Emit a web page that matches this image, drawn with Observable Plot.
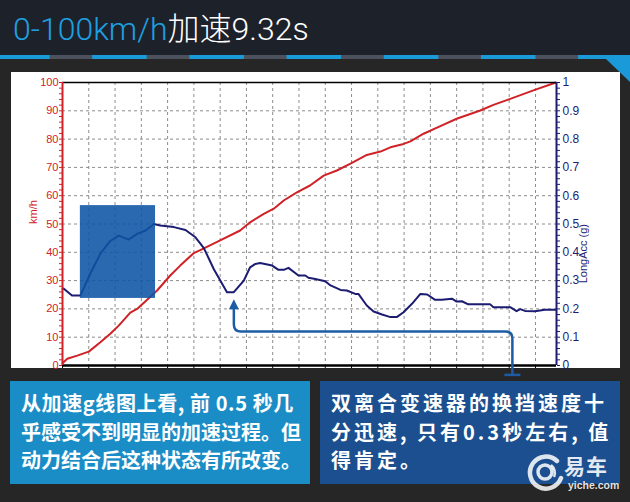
<!DOCTYPE html>
<html><head><meta charset="utf-8">
<script src="https://cdn.jsdelivr.net/npm/d3@7"></script>
<script src="https://cdn.jsdelivr.net/npm/@observablehq/plot@0.6"></script>
<style>
html,body{margin:0;padding:0;width:630px;height:502px;overflow:hidden;background:#262626;}
#header{position:absolute;left:0;top:0;width:630px;height:55px;background:#1d212a;}
#title{position:absolute;left:13px;top:11px;font-family:Roboto,"Noto Sans CJK SC",sans-serif;font-weight:300;font-size:32px;line-height:36px;color:#fff;white-space:nowrap;}
#title .c{color:#1ea0e0}
#stripe{position:absolute;left:0;top:55px;width:630px;height:4px;background-image:linear-gradient(to right,#1a9ad8 0 55px,#4b515d 55px 97.2px);background-size:97.2px 4px;background-position:-5px 0;}
#panel{position:absolute;left:11px;top:72px;width:609px;height:296px;background:#fff;}
#corner{position:absolute;left:0;top:0;width:630px;height:100px;background:#1a9ad8;clip-path:polygon(606px 59px,630px 59px,630px 82px);}
#chart{position:absolute;left:0;top:0;}
.box{position:absolute;top:381px;width:300px;height:103px;color:#fff;font-family:"Noto Sans CJK SC",sans-serif;font-weight:700;font-size:20px;line-height:28.5px;box-sizing:border-box;padding:8px 0 0 11px;white-space:nowrap;}
#boxL{left:10px;background:#1a8dc6;}
#boxR{left:320px;background:#1b4f8f;letter-spacing:3px;}
.box span{display:block;}
#boxL .l1{letter-spacing:0.6px;}
#logo{position:absolute;left:526px;top:452px;width:92px;height:40px;color:rgba(255,255,255,0.88);}
#logo svg{position:absolute;left:0;top:1px;}
#logo .zh{position:absolute;left:38px;top:0px;font-family:"Noto Sans CJK SC",sans-serif;font-weight:700;font-size:21px;line-height:26px;letter-spacing:1px;}
#logo .en{position:absolute;left:42px;top:27px;font-family:"Liberation Sans",Arial,sans-serif;font-weight:700;font-size:10.5px;line-height:12px;}
</style></head>
<body>
<div id="header"><div id="title"><span class="c">0-100km/h</span>加速9.32s</div></div>
<div id="stripe"></div>
<div id="panel"></div>
<div id="corner"></div>
<div id="chart"></div>
<div class="box" id="boxL"><span class="l1">从加速g线图上看, 前 0.5 秒几</span><span>乎感受不到明显的加速过程。但</span><span>动力结合后这种状态有所改变。</span></div>
<div class="box" id="boxR"><span>双离合变速器的换挡速度十</span><span>分迅速, 只有0.3秒左右, 值</span><span>得肯定。</span></div>
<div id="logo">
<svg width="38" height="38" viewBox="0 0 38 38"><g fill="none" stroke="rgba(255,255,255,0.85)"><path d="M31 8 A16 16 0 1 0 35 25" stroke-width="4.5" stroke-linecap="round"/><circle cx="19" cy="19" r="7" stroke-width="3.5"/><path d="M25 12 A10 10 0 0 1 28 24" stroke-width="2.5"/></g></svg>
<div class="zh">易车</div><div class="en">yiche.com</div>
</div>
<script>
// Speed (km/h) vs time (s)
const speedT = [0, 0.09, 0.28, 0.50, 0.72, 0.91, 1.07, 1.29, 1.42, 1.80, 2.05, 2.24, 2.49, 2.68, 3.00, 3.38, 3.57, 3.83, 4.02, 4.21, 4.46, 4.71, 4.97, 5.22, 5.48, 5.79, 6.05, 6.24, 6.49, 6.62, 6.87, 7.19, 7.50, 7.95, 8.20, 8.52, 8.96, 9.39];
const speedV = [0.8, 2.4, 3.5, 4.9, 8.2, 11.2, 14.1, 18.7, 20.0, 26.5, 31.8, 35.3, 39.6, 41.3, 44.2, 47.7, 50.6, 53.6, 55.4, 58.3, 61.2, 63.6, 67.1, 68.9, 71.3, 74.4, 75.6, 77.1, 78.3, 79.2, 81.9, 84.6, 87.2, 90.1, 92.1, 94.2, 97.2, 100];
// Longitudinal acceleration (g) vs time (s)
const accT = [0, 0.02, 0.18, 0.34, 0.53, 0.72, 0.91, 1.07, 1.26, 1.42, 1.58, 1.74, 1.86, 2.12, 2.34, 2.53, 2.69, 2.88, 3.13, 3.26, 3.45, 3.57, 3.67, 3.76, 3.99, 4.11, 4.21, 4.30, 4.49, 4.62, 4.68, 4.81, 5.00, 5.10, 5.29, 5.41, 5.57, 5.63, 5.79, 5.92, 6.08, 6.24, 6.36, 6.49, 6.65, 6.81, 6.94, 7.09, 7.22, 7.41, 7.50, 7.60, 7.72, 8.14, 8.20, 8.52, 8.64, 8.71, 8.80, 8.99, 9.18, 9.39];
const accV = [0.27, 0.272, 0.247, 0.247, 0.325, 0.395, 0.44, 0.459, 0.445, 0.465, 0.477, 0.50, 0.495, 0.489, 0.479, 0.453, 0.415, 0.34, 0.259, 0.259, 0.30, 0.347, 0.359, 0.362, 0.353, 0.338, 0.338, 0.345, 0.318, 0.318, 0.31, 0.306, 0.298, 0.283, 0.267, 0.265, 0.253, 0.253, 0.212, 0.191, 0.18, 0.171, 0.171, 0.188, 0.218, 0.253, 0.251, 0.232, 0.232, 0.236, 0.226, 0.227, 0.216, 0.216, 0.206, 0.206, 0.192, 0.199, 0.193, 0.192, 0.197, 0.197];
const timeDomain = [0, 9.4];
const speedTicks = d3.range(0, 101, 2);
const gridT = d3.range(0.5, 9.01, 0.5);
const gridV = d3.range(10, 91, 10);
// annotations (data units)
const highlight = [{t1: 0.34, t2: 1.77, v1: 23.7, v2: 56.5}];
const arrowPts = {tTip: 3.27, tEnd: 8.57, vTip: 23.2, vTurn: 11.8, vEnd: -3.5};

const speedData = speedT.map((t, i) => ({t, v: speedV[i]}));
const accData = accT.map((t, i) => ({t, g: accV[i]}));

const RED = "#d02226", NAVY = "#1c1c72", ARROW = "#1d5ca4";

function arrowMark(index, scales) {
  const x = scales.x, y = scales.y, ns = "http://www.w3.org/2000/svg";
  const xa = x(arrowPts.tTip), xb = x(arrowPts.tEnd);
  const yh = y(arrowPts.vTurn), yt = y(arrowPts.vTip), yb = y(arrowPts.vEnd);
  const r = 7;
  const g = document.createElementNS(ns, "g");
  const p = document.createElementNS(ns, "path");
  p.setAttribute("d", `M${xb},${yb} L${xb},${yh + r} Q${xb},${yh} ${xb - r},${yh} L${xa + r},${yh} Q${xa},${yh} ${xa},${yh - r} L${xa},${yt + 8}`);
  p.setAttribute("fill", "none"); p.setAttribute("stroke", ARROW); p.setAttribute("stroke-width", "2.5");
  g.appendChild(p);
  const h = document.createElementNS(ns, "path");
  h.setAttribute("d", `M${xa},${yt} L${xa - 5},${yt + 10} L${xa + 5},${yt + 10} Z`);
  h.setAttribute("fill", ARROW);
  g.appendChild(h);
  const tb = document.createElementNS(ns, "path");
  tb.setAttribute("d", `M${xb - 8},${yb} L${xb + 8},${yb}`);
  tb.setAttribute("stroke", ARROW); tb.setAttribute("stroke-width", "2.5");
  g.appendChild(tb);
  return g;
}

const chart = Plot.plot({
  width: 630, height: 390,
  marginLeft: 62, marginRight: 74, marginTop: 82, marginBottom: 25,
  style: {background: "transparent", fontFamily: "'Liberation Sans', Arial, sans-serif", fontSize: "11px", overflow: "visible"},
  x: {domain: timeDomain},
  y: {domain: [0, 100]},
  marks: [
    Plot.gridX(gridT, {stroke: "#8c8c8c", strokeOpacity: 1, strokeDasharray: "3,3"}),
    Plot.gridY(gridV, {stroke: "#8c8c8c", strokeOpacity: 1, strokeDasharray: "3,3"}),
    Plot.line(speedData, {x: "t", y: "v", stroke: RED, strokeWidth: 2}),
    Plot.line(accData, {x: "t", y: d => d.g * 100, stroke: NAVY, strokeWidth: 2}),
    Plot.rect(highlight, {x1: "t1", x2: "t2", y1: "v1", y2: "v2", fill: "#0d54a4", fillOpacity: 0.88}),
    Plot.ruleY([100], {stroke: "#000", strokeWidth: 1.5}),
    Plot.axisX({ticks: d3.range(0, 9.4, 0.5), tickFormat: () => "", tickSize: 3, stroke: "#000", label: null}),
    Plot.ruleY([0], {stroke: "#000", strokeWidth: 2.5}),
    Plot.ruleX([timeDomain[0]], {stroke: RED, strokeWidth: 2}),
    Plot.ruleX([timeDomain[1]], {stroke: NAVY, strokeWidth: 2}),
    Plot.axisY({anchor: "left", ticks: speedTicks, tickFormat: d => d % 10 === 0 ? String(d) : "", tickSize: 3, tickPadding: 1, stroke: RED, fill: RED, label: null}),
    Plot.axisY({anchor: "right", ticks: speedTicks, tickFormat: d => d % 10 === 0 ? String(d / 100) : "", tickSize: 3, tickPadding: 3, stroke: NAVY, fill: NAVY, fontSize: 12, label: null}),
    Plot.text(["km/h"], {text: d => d, frameAnchor: "left", dx: -29, rotate: -90, fill: RED, fontSize: 11}),
    Plot.text(["LongAcc (g)"], {text: d => d, frameAnchor: "right", dx: 27, rotate: -90, fill: NAVY, fontSize: 11}),
    arrowMark
  ]
});
document.getElementById("chart").appendChild(chart);
</script>
</body></html>
